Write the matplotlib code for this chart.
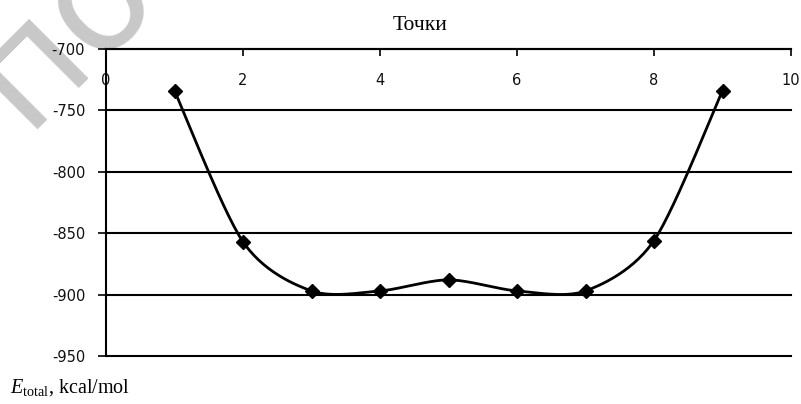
import numpy as np
import matplotlib
matplotlib.use("Agg")
import matplotlib.pyplot as plt

# Energy of each point along the path
points = [1, 2, 3, 4, 5, 6, 7, 8, 9]
energy = [-734, -857, -897, -897, -888, -897, -897, -856, -734]

x_ticks = [0, 2, 4, 6, 8, 10]
y_ticks = [-950, -900, -850, -800, -750, -700]

plt.rcParams['mathtext.fontset'] = 'custom'
plt.rcParams['mathtext.rm'] = 'Liberation Serif'
plt.rcParams['mathtext.it'] = 'Liberation Serif:italic'


def smooth(xs, ys, n=30, k=7.0):
    # Catmull-Rom style smoothing, drawn as cubic Bezier segments
    px = np.array([xs[0]] + list(xs) + [xs[-1]], dtype=float)
    py = np.array([ys[0]] + list(ys) + [ys[-1]], dtype=float)
    t = np.linspace(0, 1, n)
    outx, outy = [], []
    for i in range(1, len(px) - 2):
        p0 = np.array([px[i], py[i]])
        p3 = np.array([px[i + 1], py[i + 1]])
        p1 = p0 + (p3 - np.array([px[i - 1], py[i - 1]])) / k
        p2 = p3 - (np.array([px[i + 2], py[i + 2]]) - p0) / k
        b = ((1 - t) ** 3)[:, None] * p0 + (3 * (1 - t) ** 2 * t)[:, None] * p1 \
            + (3 * (1 - t) * t ** 2)[:, None] * p2 + (t ** 3)[:, None] * p3
        outx.extend(b[:, 0])
        outy.extend(b[:, 1])
    return outx, outy


fig = plt.figure(figsize=(8.01, 4.04), dpi=100)
ax = fig.add_axes([106 / 801, 48 / 404, 685 / 801, 307 / 404])

sx, sy = smooth(points, energy)
ax.plot(sx, sy, color='black', lw=2, zorder=3)
ax.plot(points, energy, linestyle='none', marker='D', markersize=7.5,
        color='black', zorder=4)

ax.set_xlim(0, 10)
ax.set_ylim(-950, -700)
ax.set_xticks(x_ticks)
ax.set_yticks(y_ticks)
ax.set_yticklabels([str(v) for v in y_ticks])

for v in y_ticks:
    ax.axhline(v, color='black', lw=1.5, zorder=1, clip_on=False)

ax.spines['right'].set_visible(False)
ax.spines['bottom'].set_visible(False)
ax.spines['left'].set_linewidth(1.5)
ax.spines['top'].set_linewidth(1.5)

ax.xaxis.tick_top()
ax.tick_params(axis='x', direction='in', length=5, width=1.2, pad=-28,
               labelsize=10.5, labelcolor='#111111')
ax.tick_params(axis='y', direction='out', length=6, width=1.2, pad=9,
               labelsize=10.5, labelcolor='#111111')
for lab in ax.get_xticklabels():
    lab.set_verticalalignment('bottom')

fig.text(420 / 801, 1 - 26 / 404, 'Точки', family='Liberation Serif',
         fontsize=15.5, ha='center', va='center')
fig.text(10 / 801, 1 - 393 / 404, r'$E_{\mathrm{total}}$, kcal/mol',
         family='Liberation Serif', fontsize=14.5, ha='left', va='baseline')

# faint watermark in the corner, behind the axes
fig.text(62 / 801, 1 - 31 / 404, 'по', color='#c8c8c8', fontsize=110,
         rotation=45, ha='center', va='center', rotation_mode='anchor',
         family='DejaVu Sans', zorder=-1)

fig.savefig('out.png', dpi=100)
